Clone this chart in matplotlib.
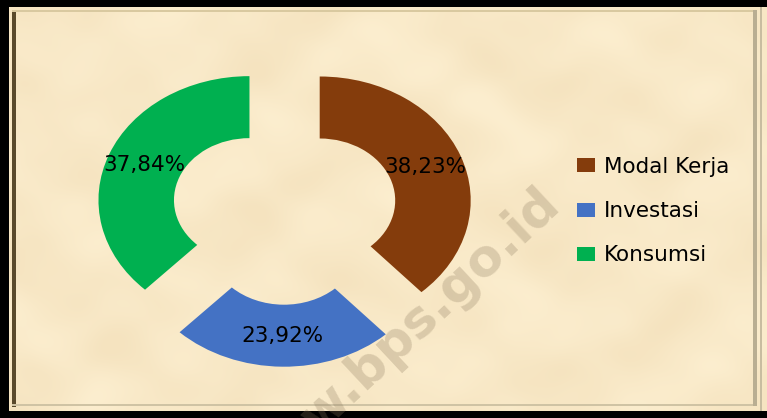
import numpy as np
import matplotlib
matplotlib.use('Agg')
import matplotlib.pyplot as plt

# ---- data ----
categories = ['Modal Kerja', 'Investasi', 'Konsumsi']
shares = [38.23, 23.92, 37.84]
colors = ['#843C0C', '#4472C4', '#00B050']

W, H = 767, 418
fig = plt.figure(figsize=(W / 100, H / 100), dpi=100)
fig.patch.set_facecolor('black')

# ---- parchment background with frame ----
bg = fig.add_axes([0, 0, 1, 1], zorder=0)
bg.set_xlim(0, W)
bg.set_ylim(H, 0)
bg.axis('off')
x0, x1, y0, y1 = 9, 767, 7, 411
yy, xx = np.mgrid[y0:y1, x0:x1].astype(float)
t = (np.sin(xx / 41.0 + 2.0 * np.sin(yy / 29.0))
     + np.sin(yy / 23.0 + 3.0 * np.cos(xx / 61.0))
     + 0.5 * np.sin(xx / 17.0 + 1.5 * np.sin(yy / 13.0))
     + 0.4 * np.sin(yy / 11.0 + 2.0 * np.cos(xx / 19.0)))
t = (t - t.min()) / (t.max() - t.min())
light = np.array([252, 238, 207]) / 255.0
dark = np.array([238, 216, 175]) / 255.0
img = light * (1 - 0.5 * t[..., None]) + dark * (0.5 * t[..., None])
bg.imshow(img, extent=(x0, x1, y1, y0), interpolation='bilinear', aspect='auto')
# inner frame lines
bg.add_patch(plt.Rectangle((12, 11), 4, 396, color='#5A4A2C', lw=0))
bg.add_patch(plt.Rectangle((12, 10), 745, 2, color='#D9C9A0', lw=0))
bg.add_patch(plt.Rectangle((12, 404), 745, 2, color='#CFC3A4', lw=0))
bg.add_patch(plt.Rectangle((753, 10), 4, 396, color='#B9AE92', lw=0))
bg.add_patch(plt.Rectangle((760, 7), 2, 404, color='#C8BDA0', lw=0))

# ---- watermark ----
fig.text(562 / W, 1 - 208 / H, 'www.bps.go.id', rotation=43, rotation_mode='anchor',
         ha='right', va='baseline', fontsize=37, fontweight='bold',
         color='#8C7A5E', alpha=0.28, zorder=1)

# ---- donut ----
cx, cy, Rx, Ry = 284.5, 211.7, 151.0, 124.0
ax = fig.add_axes([0, 0, 1, 1], zorder=2)
ax.patch.set_alpha(0)


def fmt(p):
    return ('%.2f%%' % p).replace('.', ',')


wedges, texts, autotexts = ax.pie(
    shares, colors=colors, startangle=90, counterclock=False,
    explode=[0.25] * len(shares), radius=1.0,
    wedgeprops=dict(width=0.5, edgecolor='none'),
    autopct=fmt, pctdistance=0.75,
    textprops=dict(fontsize=15.5, color='black'))
ax.set_aspect('auto')
ax.set_xlim(-cx / Rx, (W - cx) / Rx)
ax.set_ylim(-(H - cy) / Ry, cy / Ry)
ax.axis('off')

leg = ax.legend(wedges, categories, loc='upper left',
                bbox_to_anchor=(577 / W, 1 - 157 / H), bbox_transform=fig.transFigure,
                frameon=False, fontsize=15.5, handlelength=0.85, handleheight=0.62,
                handletextpad=0.4, labelspacing=1.12, borderpad=0, borderaxespad=0)

fig.savefig('out.png', dpi=100, facecolor=fig.get_facecolor())
